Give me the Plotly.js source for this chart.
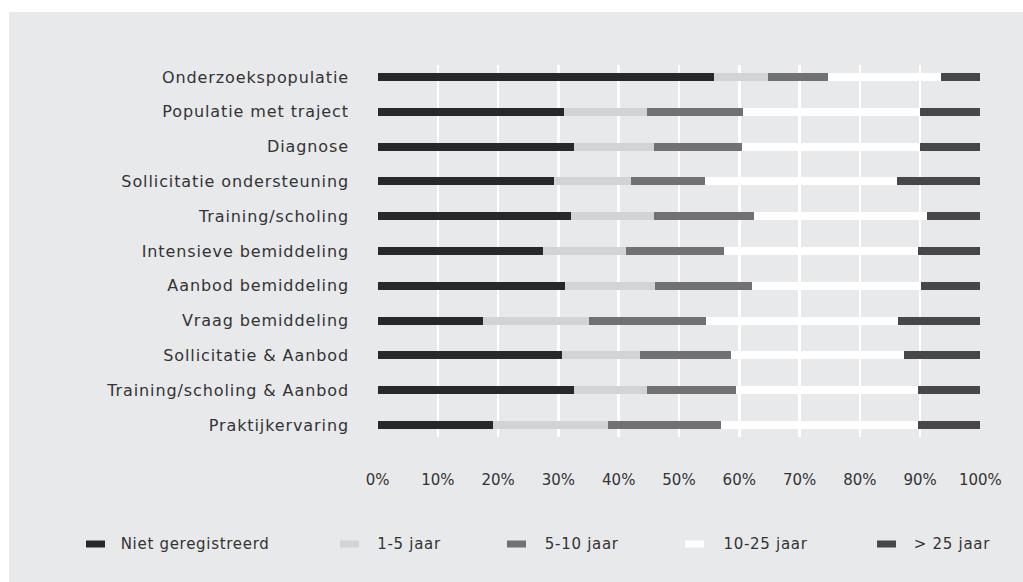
<!DOCTYPE html>
<html>
<head>
<meta charset="utf-8">
<script src="https://cdn.plot.ly/plotly-3.0.1.min.js"></script>
<style>
  html, body { margin: 0; padding: 0; background: #ffffff; width: 1023px; height: 582px; overflow: hidden; }
  #chart { position: absolute; left: 9px; top: 12px; width: 1014px; height: 570px; }
  #chart .ytick text { letter-spacing: 0.9px; }
  #chart .annotation-text { letter-spacing: 0.7px; }
</style>
</head>
<body>
<div id="chart"></div>
<script>
// ---- data ----
var categories = [
  "Onderzoekspopulatie",
  "Populatie met traject",
  "Diagnose",
  "Sollicitatie ondersteuning",
  "Training/scholing",
  "Intensieve bemiddeling",
  "Aanbod bemiddeling",
  "Vraag bemiddeling",
  "Sollicitatie & Aanbod",
  "Training/scholing & Aanbod",
  "Praktijkervaring"
];
var seriesNames = ["Niet geregistreerd", "1-5 jaar", "5-10 jaar", "10-25 jaar", "> 25 jaar"];
var nietGeregistreerd = [55.8, 31.0, 32.6, 29.3, 32.1, 27.5, 31.1, 17.5, 30.6, 32.6, 19.2];
var jaar1tot5        = [ 8.9, 13.7, 13.3, 12.8, 13.8, 13.7, 14.9, 17.6, 12.9, 12.1, 19.0];
var jaar5tot10       = [10.1, 15.9, 14.5, 12.2, 16.5, 16.3, 16.1, 19.4, 15.1, 14.7, 18.8];
var jaar10tot25      = [18.6, 29.3, 29.5, 31.8, 28.8, 32.1, 28.0, 31.9, 28.7, 30.3, 32.6];
var meerDan25        = [ 6.6, 10.1, 10.1, 13.9,  8.8, 10.4,  9.9, 13.6, 12.7, 10.3, 10.4];
var tickValues = [0, 10, 20, 30, 40, 50, 60, 70, 80, 90, 100];
var tickLabels = ["0%", "10%", "20%", "30%", "40%", "50%", "60%", "70%", "80%", "90%", "100%"];

// ---- styling ----
var seriesColors = ["#27282a", "#d2d3d5", "#717074", "#ffffff", "#47464b"];
var seriesValues = [nietGeregistreerd, jaar1tot5, jaar5tot10, jaar10tot25, meerDan25];
var FONT = "DejaVu Sans, Noto Sans, sans-serif";
var TEXT = "#333333";

var W = 1014, H = 570;
var M = {l: 368, r: 42, t: 53, b: 145};
var PW = W - M.l - M.r, PH = H - M.t - M.b;
// convert page pixel positions (of the 1023x582 window) to paper coordinates
function px(x) { return (x - 9 - M.l) / PW; }
function py(y) { return (H - M.b - (y - 12)) / PH; }

var traces = seriesNames.map(function (name, i) {
  return {
    type: "bar",
    orientation: "h",
    name: name,
    y: categories,
    x: seriesValues[i],
    width: 0.23,
    marker: {color: seriesColors[i], line: {width: 0}},
    hoverinfo: "name+x",
    showlegend: false
  };
});

// manual legend layout (pixel positions in window)
var legendSwatchX = [86, 340, 507, 685, 877];
var legendTextX = [125, 378, 546, 725, 915];
var legendY = 544;
var shapes = [], annotations = [];
seriesNames.forEach(function (name, i) {
  shapes.push({
    type: "rect", xref: "paper", yref: "paper",
    x0: px(legendSwatchX[i]), x1: px(legendSwatchX[i] + 19),
    y0: py(legendY + 3.5), y1: py(legendY - 3.5),
    fillcolor: seriesColors[i], line: {width: 0}, layer: "above"
  });
  annotations.push({
    xref: "paper", yref: "paper",
    x: px(legendTextX[i]), y: py(legendY),
    xanchor: "left", yanchor: "middle",
    text: name, showarrow: false,
    font: {family: FONT, size: 15, color: TEXT}
  });
});

var layout = {
  width: W, height: H,
  margin: M,
  barmode: "stack",
  paper_bgcolor: "#e8e9eb",
  plot_bgcolor: "#e8e9eb",
  showlegend: false,
  font: {family: FONT, size: 15, color: TEXT},
  xaxis: {
    range: [-0.1, 100.1],
    tickvals: tickValues,
    ticktext: tickLabels,
    showgrid: true,
    gridcolor: "#ffffff",
    gridwidth: 2.5,
    zeroline: false,
    showline: false,
    ticks: "",
    ticklabelstandoff: 32,
    tickfont: {family: FONT, size: 15, color: TEXT},
    fixedrange: true
  },
  yaxis: {
    type: "category",
    range: [10.345, -0.345],
    showgrid: false,
    zeroline: false,
    showline: false,
    ticks: "",
    ticklabelstandoff: 27,
    tickfont: {family: FONT, size: 16, color: TEXT},
    fixedrange: true
  },
  shapes: shapes,
  annotations: annotations
};

Plotly.newPlot("chart", traces, layout, {displayModeBar: false, staticPlot: true});
</script>
</body>
</html>
